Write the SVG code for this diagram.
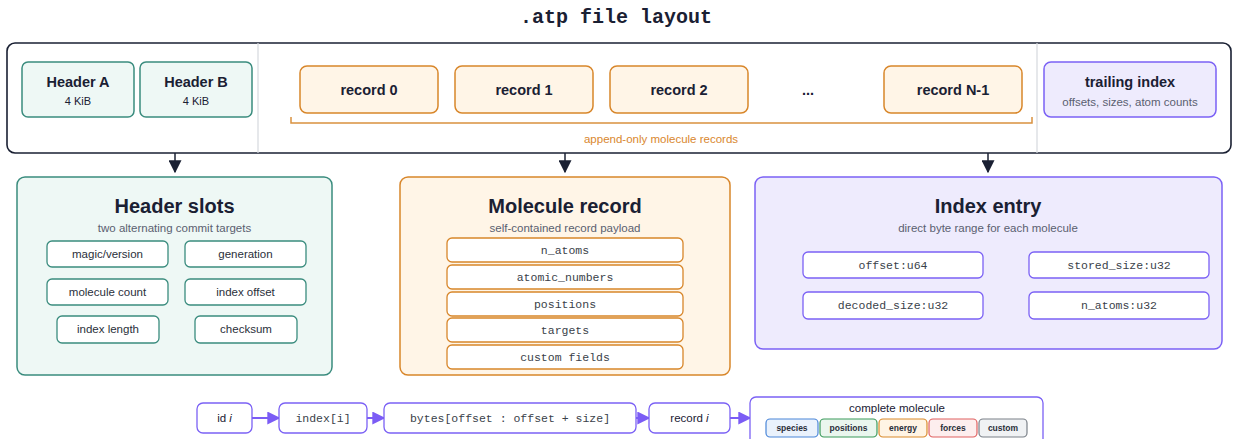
<svg xmlns="http://www.w3.org/2000/svg" width="1233" height="439" viewBox="0 0 1233 439">
<style>
text{font-family:"Liberation Sans",Arial,sans-serif;fill:#1a2033}
.mono{font-family:"Liberation Mono","Courier New",monospace;font-size:11.5px;fill:#3a3f4a}
.title{font-family:"Liberation Mono","Courier New",monospace;font-size:20px;font-weight:bold}
.blab{font-size:14.5px;font-weight:bold}
.sub{font-size:11.5px;fill:#5a6070}
.ptitle{font-size:20px;font-weight:bold}
.psub{font-size:11.5px;fill:#5a6070}
.fld{font-size:11.5px;fill:#2a2f3a}
.teal{fill:#eef8f5;stroke:#3a8c7e;stroke-width:1.5}
.tealf{fill:#ffffff;stroke:#3a8c7e;stroke-width:1.3}
.org{fill:#fff5e7;stroke:#d8862a;stroke-width:1.5}
.orgf{fill:#ffffff;stroke:#d8862a;stroke-width:1.3}
.pur{fill:#eeebfd;stroke:#7b61f5;stroke-width:1.5}
.purf{fill:#ffffff;stroke:#7b61f5;stroke-width:1.3}
.chip{font-size:8.5px;font-weight:bold;fill:#2a2f3a}
.dn{stroke:#1a2033;stroke-width:1.5;fill:none;marker-end:url(#ah)}
.fl{stroke:#7b5cf5;stroke-width:2;fill:none;marker-end:url(#ahp)}
</style>
<defs>
<marker id="ah" viewBox="0 0 10 10" refX="9" refY="5" markerWidth="13" markerHeight="13" markerUnits="userSpaceOnUse" orient="auto"><path d="M0,0 L10,5 L0,10 z" fill="#1a2033"/></marker>
<marker id="ahp" viewBox="0 0 10 10" refX="9" refY="5" markerWidth="13" markerHeight="13" markerUnits="userSpaceOnUse" orient="auto"><path d="M0,0 L10,5 L0,10 z" fill="#7b5cf5"/></marker>
</defs>
<rect width="1233" height="439" fill="#ffffff"/>
<text class="title" x="616" y="23" text-anchor="middle">.atp file layout</text>

<g id="file">
<rect x="7" y="43" width="1224" height="110" rx="8" fill="#ffffff" stroke="#1a2033" stroke-width="1.6"/>
<line x1="258" y1="43" x2="258" y2="153" stroke="#d6d9de" stroke-width="1.2"/>
<line x1="1037" y1="43" x2="1037" y2="153" stroke="#d6d9de" stroke-width="1.2"/>
</g>
<g id="headerA"><rect class="teal" x="22" y="62" width="112" height="55" rx="6"/><text class="blab" x="78" y="87" text-anchor="middle">Header A</text><text x="78" y="105" text-anchor="middle" font-size="11" fill="#333">4 KiB</text></g>
<g id="headerB"><rect class="teal" x="140" y="62" width="112" height="55" rx="6"/><text class="blab" x="196" y="87" text-anchor="middle">Header B</text><text x="196" y="105" text-anchor="middle" font-size="11" fill="#333">4 KiB</text></g>
<g id="record0"><rect class="org" x="300" y="66" width="138" height="47" rx="7"/><text class="blab" x="369" y="95" text-anchor="middle">record 0</text></g>
<g id="record1"><rect class="org" x="455" y="66" width="138" height="47" rx="7"/><text class="blab" x="524" y="95" text-anchor="middle">record 1</text></g>
<g id="record2"><rect class="org" x="610" y="66" width="138" height="47" rx="7"/><text class="blab" x="679" y="95" text-anchor="middle">record 2</text></g>
<g id="ellipsis"><text class="blab" x="808" y="95" text-anchor="middle">...</text></g>
<g id="recordN"><rect class="org" x="884" y="66" width="138" height="47" rx="7"/><text class="blab" x="953" y="95" text-anchor="middle">record N-1</text></g>
<g id="bracket"><path d="M291,117 V123 H1032 V117" fill="none" stroke="#d9913f" stroke-width="1.5"/><text x="661" y="143" text-anchor="middle" font-size="11.5" style="fill:#d9872e">append-only molecule records</text></g>
<g id="trailing"><rect class="pur" x="1044" y="62" width="172" height="55" rx="7"/><text class="blab" x="1130" y="87" text-anchor="middle">trailing index</text><text class="sub" x="1130" y="106" text-anchor="middle">offsets, sizes, atom counts</text></g>

<g id="connectors">
<line class="dn" x1="175" y1="153" x2="175" y2="172"/>
<line class="dn" x1="565" y1="153" x2="565" y2="172"/>
<line class="dn" x1="988" y1="153" x2="988" y2="172"/>
<line class="fl" x1="252" y1="418" x2="279" y2="418"/>
<line class="fl" x1="367" y1="418" x2="384" y2="418"/>
<line class="fl" x1="636" y1="418" x2="649" y2="418"/>
<line class="fl" x1="730" y1="418" x2="750" y2="418"/>
</g>

<g id="headerSlots">
<rect class="teal" x="17" y="177" width="315" height="198" rx="8"/>
<text class="ptitle" x="174.5" y="213" text-anchor="middle">Header slots</text>
<text class="psub" x="174.5" y="232" text-anchor="middle">two alternating commit targets</text>
<rect class="tealf" x="47" y="241" width="121" height="26" rx="5"/><text class="fld" x="107.5" y="258" text-anchor="middle">magic/version</text>
<rect class="tealf" x="185" y="241" width="121" height="26" rx="5"/><text class="fld" x="245.5" y="258" text-anchor="middle">generation</text>
<rect class="tealf" x="47" y="279" width="121" height="26" rx="5"/><text class="fld" x="107.5" y="296" text-anchor="middle">molecule count</text>
<rect class="tealf" x="185" y="279" width="121" height="26" rx="5"/><text class="fld" x="245.5" y="296" text-anchor="middle">index offset</text>
<rect class="tealf" x="57" y="316" width="102" height="27" rx="5"/><text class="fld" x="108" y="333" text-anchor="middle">index length</text>
<rect class="tealf" x="195" y="316" width="102" height="27" rx="5"/><text class="fld" x="246" y="333" text-anchor="middle">checksum</text>
</g>

<g id="moleculeRecord">
<rect class="org" x="400" y="177" width="330" height="198" rx="8"/>
<text class="ptitle" x="565" y="213" text-anchor="middle">Molecule record</text>
<text class="psub" x="565" y="232" text-anchor="middle">self-contained record payload</text>
<rect class="orgf" x="447" y="238" width="236" height="24" rx="5"/><text class="mono" x="565" y="254" text-anchor="middle">n_atoms</text>
<rect class="orgf" x="447" y="265" width="236" height="24" rx="5"/><text class="mono" x="565" y="281" text-anchor="middle">atomic_numbers</text>
<rect class="orgf" x="447" y="292" width="236" height="24" rx="5"/><text class="mono" x="565" y="308" text-anchor="middle">positions</text>
<rect class="orgf" x="447" y="318" width="236" height="24" rx="5"/><text class="mono" x="565" y="334" text-anchor="middle">targets</text>
<rect class="orgf" x="447" y="345" width="236" height="24" rx="5"/><text class="mono" x="565" y="361" text-anchor="middle">custom fields</text>
</g>

<g id="indexEntry">
<rect class="pur" x="755" y="177" width="467" height="172" rx="8"/>
<text class="ptitle" x="988" y="213" text-anchor="middle">Index entry</text>
<text class="psub" x="988" y="232" text-anchor="middle">direct byte range for each molecule</text>
<rect class="purf" x="803" y="252" width="180" height="26" rx="5"/><text class="mono" x="893" y="269" text-anchor="middle">offset:u64</text>
<rect class="purf" x="1029" y="252" width="180" height="26" rx="5"/><text class="mono" x="1119" y="269" text-anchor="middle">stored_size:u32</text>
<rect class="purf" x="803" y="292" width="180" height="27" rx="5"/><text class="mono" x="893" y="309" text-anchor="middle">decoded_size:u32</text>
<rect class="purf" x="1029" y="292" width="180" height="27" rx="5"/><text class="mono" x="1119" y="309" text-anchor="middle">n_atoms:u32</text>
</g>

<g id="idI"><rect class="purf" x="197" y="403" width="55" height="30" rx="6"/><text x="224.5" y="422" text-anchor="middle" font-size="11.5">id <tspan font-style="italic">i</tspan></text></g>
<g id="indexI"><rect class="purf" x="279" y="403" width="88" height="30" rx="6"/><text class="mono" x="323" y="422" text-anchor="middle">index[i]</text></g>
<g id="bytes"><rect class="purf" x="384" y="403" width="252" height="30" rx="6"/><text class="mono" x="510" y="422" text-anchor="middle">bytes[offset : offset + size]</text></g>
<g id="recordI"><rect class="purf" x="649" y="403" width="81" height="30" rx="6"/><text x="689.5" y="422" text-anchor="middle" font-size="11.5">record <tspan font-style="italic">i</tspan></text></g>
<g id="complete">
<rect class="purf" x="750" y="397" width="293" height="50" rx="6"/>
<text x="897" y="412" text-anchor="middle" font-size="11.5">complete molecule</text>
<rect x="766" y="419" width="52" height="18" rx="4" fill="#eaf2fc" stroke="#4a86d8" stroke-width="1.2"/><text class="chip" x="792" y="431" text-anchor="middle">species</text>
<rect x="820" y="419" width="57" height="18" rx="4" fill="#eaf6ee" stroke="#3a9a5a" stroke-width="1.2"/><text class="chip" x="848.5" y="431" text-anchor="middle">positions</text>
<rect x="879" y="419" width="48" height="18" rx="4" fill="#fff4e4" stroke="#d98a2b" stroke-width="1.2"/><text class="chip" x="903" y="431" text-anchor="middle">energy</text>
<rect x="929" y="419" width="48" height="18" rx="4" fill="#fdeeee" stroke="#e06060" stroke-width="1.2"/><text class="chip" x="953" y="431" text-anchor="middle">forces</text>
<rect x="979" y="419" width="48" height="18" rx="4" fill="#f0f2f4" stroke="#7a8088" stroke-width="1.2"/><text class="chip" x="1003" y="431" text-anchor="middle">custom</text>
</g>
</svg>
